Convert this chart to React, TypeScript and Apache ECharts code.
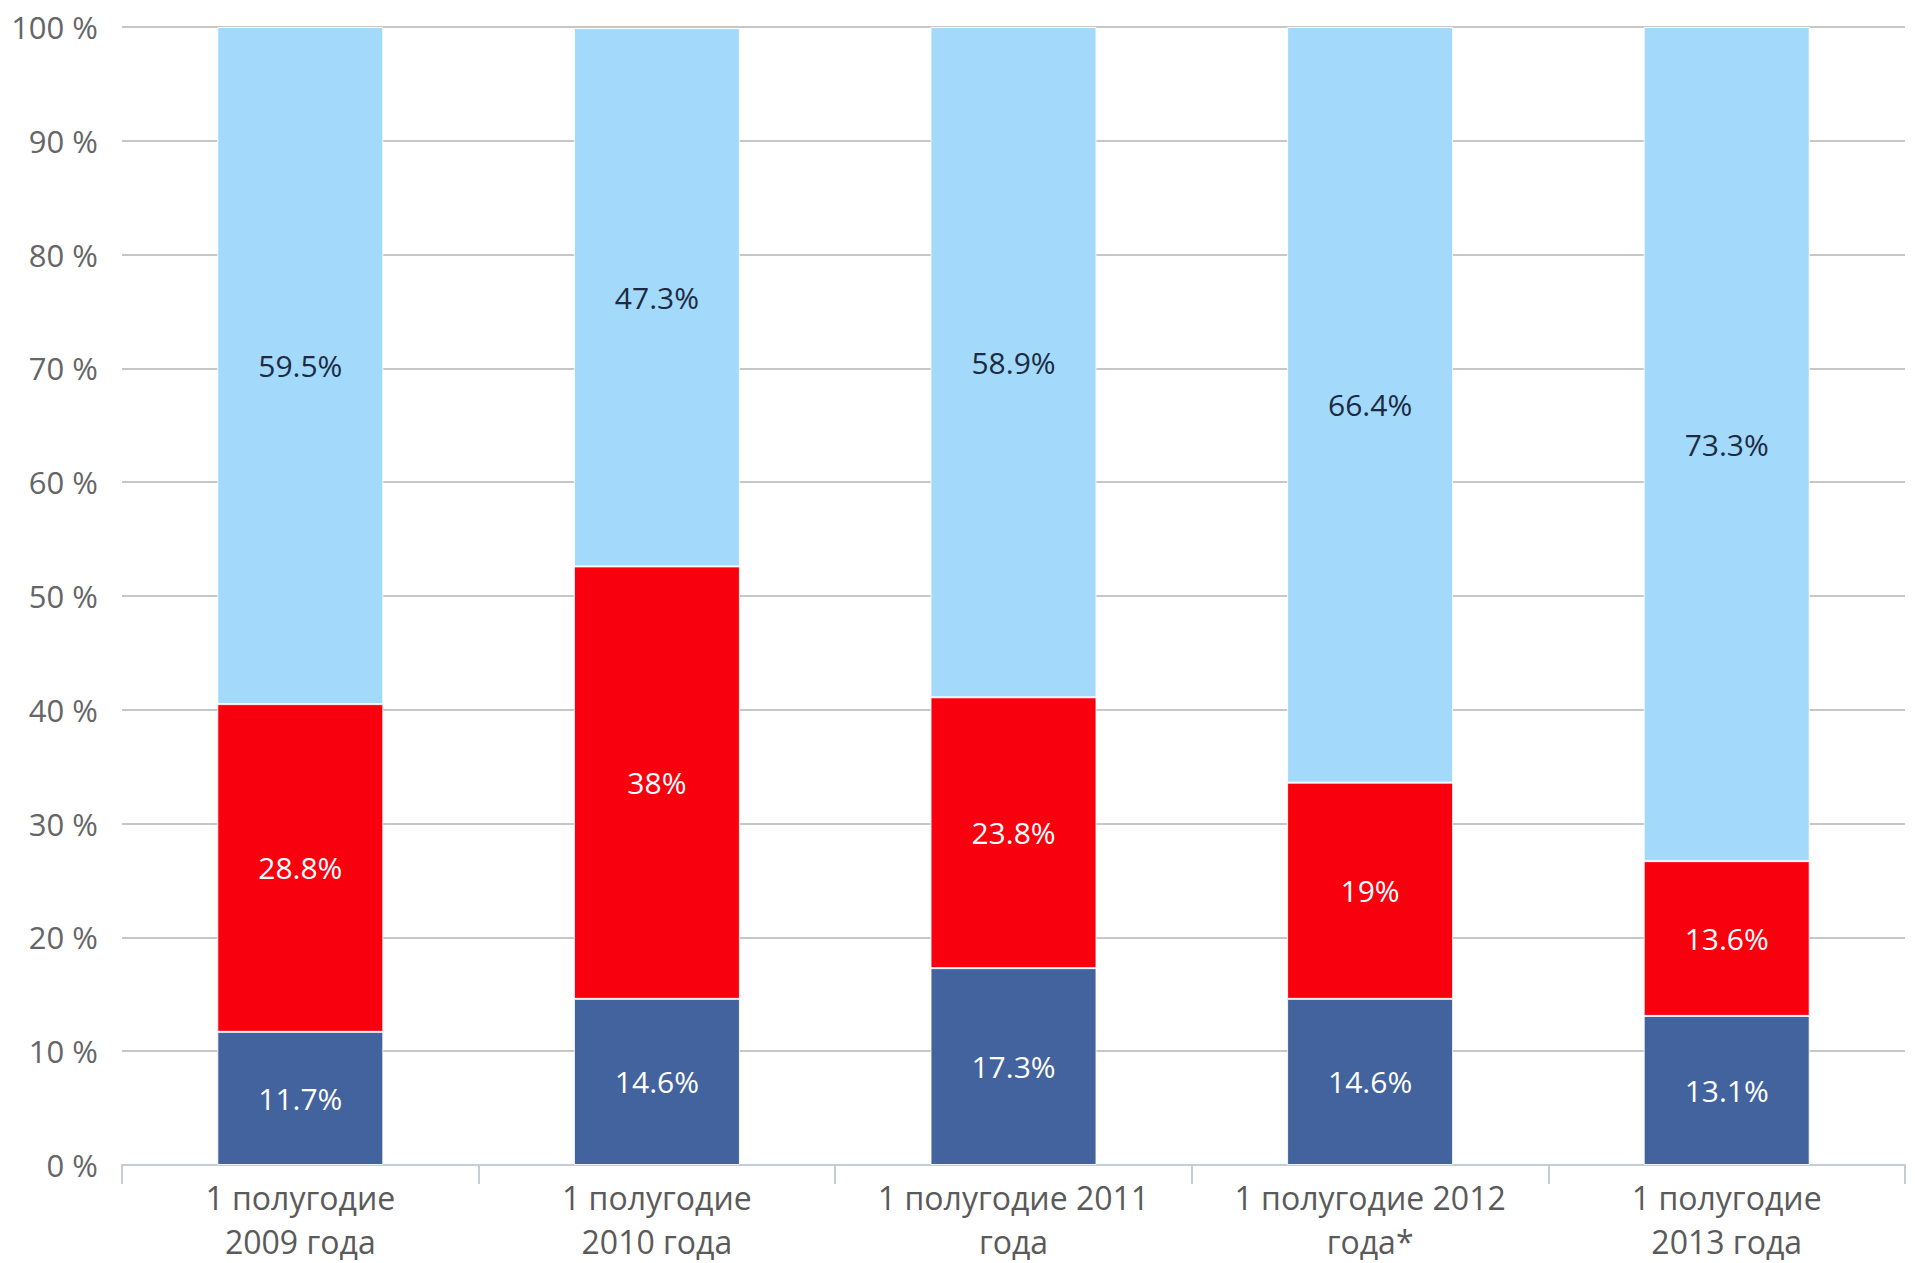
import React, { useEffect, useRef } from "react";
import * as echarts from "echarts";

const categories = [
  "1 полугодие\n2009 года",
  "1 полугодие\n2010 года",
  "1 полугодие 2011\nгода",
  "1 полугодие 2012\nгода*",
  "1 полугодие\n2013 года",
];
const darkBlueValues = [11.7, 14.6, 17.3, 14.6, 13.1];
const redValues = [28.8, 38, 23.8, 19, 13.6];
const lightBlueValues = [59.5, 47.3, 58.9, 66.4, 73.3];
const yTicks = [0, 10, 20, 30, 40, 50, 60, 70, 80, 90, 100];

const FONT = "'Open Sans', 'Liberation Sans', sans-serif";

export default function App() {
  const ref = useRef<HTMLDivElement>(null);
  useEffect(() => {
    if (!ref.current) return;
    const chart = echarts.init(ref.current, null, { renderer: "svg" });
    const mk = (name: string, data: number[], color: string, labelColor: string) => ({
      name,
      type: "bar",
      stack: "total",
      data,
      barWidth: 166,
      itemStyle: { color, borderColor: "rgba(255,255,255,0.85)", borderWidth: 1 },
      label: {
        show: true,
        position: "inside",
        formatter: (p: any) => `${p.value}%`,
        color: labelColor,
        fontSize: 30,
        fontFamily: FONT,
      },
    });
    chart.setOption({
      animation: false,
      backgroundColor: "#ffffff",
      grid: { left: 122, right: 10, top: 27, bottom: 86, containLabel: false },
      xAxis: {
        type: "category",
        data: categories,
        boundaryGap: true,
        axisLine: { show: true, lineStyle: { color: "#c6ccd6", width: 2 } },
        axisTick: { show: true, length: 19, alignWithLabel: false, lineStyle: { color: "#c6ccd6", width: 2 } },
        axisLabel: {
          interval: 0,
          margin: 10,
          color: "#5a5a5a",
          fontSize: 32,
          lineHeight: 44,
          fontFamily: FONT,
        },
      },
      yAxis: {
        type: "value",
        min: yTicks[0],
        max: yTicks[yTicks.length - 1],
        interval: 10,
        axisLine: { show: false },
        axisTick: { show: false },
        axisLabel: {
          formatter: "{value} %",
          margin: 24,
          color: "#666666",
          fontSize: 31,
          fontFamily: FONT,
        },
        splitLine: { show: true, lineStyle: { color: "#b5b5b5", width: 1.5 } },
      },
      series: [
        mk("dark", darkBlueValues, "#43639e", "#ffffff"),
        mk("red", redValues, "#f9000e", "#ffffff"),
        mk("light", lightBlueValues, "#a3d9fb", "#1c2b42"),
      ],
    });
    return () => chart.dispose();
  }, []);
  return (
    <div
      ref={ref}
      style={{ position: "fixed", left: 0, top: 0, width: 1915, height: 1263 }}
    />
  );
}
